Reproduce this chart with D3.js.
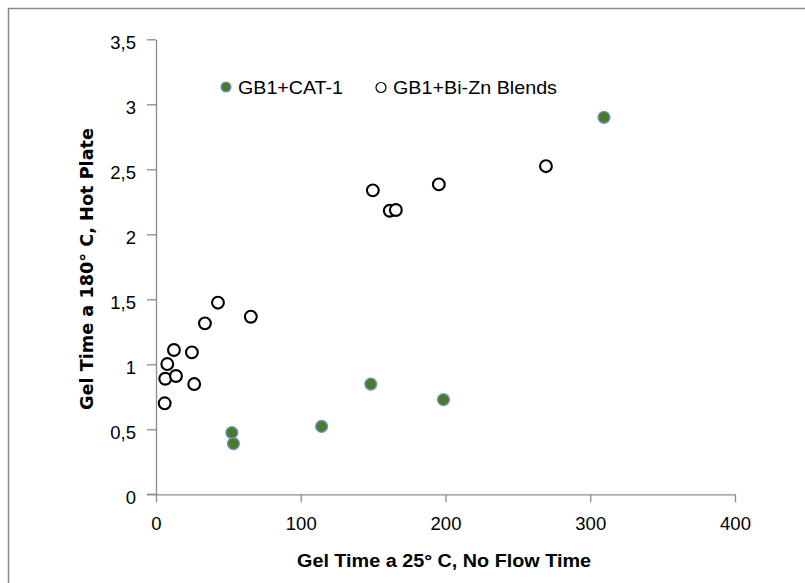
<!DOCTYPE html>
<html>
<head>
<meta charset="utf-8">
<script src="https://cdn.jsdelivr.net/npm/d3@7"></script>
<style>
  html, body { margin: 0; padding: 0; background: #fff; }
  svg { display: block; }
</style>
</head>
<body>
<svg id="chart" width="805" height="583"></svg>
<script>
// Data
const catX = [309.5, 148.4, 198.6, 114.4, 52.4, 53.5];
const catY = [2.90, 0.848, 0.728, 0.522, 0.474, 0.39];
const biznX = [42.8, 33.8, 65.5, 12.4, 24.8, 7.8, 6.4, 13.8, 26.4, 6.0, 149.8, 161.5, 165.7, 195.4, 269.4];
const biznY = [1.474, 1.315, 1.366, 1.11, 1.092, 1.002, 0.889, 0.91, 0.848, 0.70, 2.338, 2.181, 2.187, 2.384, 2.524];
const xTicks = [0, 100, 200, 300, 400];
const yTicks = [0, 0.5, 1, 1.5, 2, 2.5, 3, 3.5];
const seriesNames = ["GB1+CAT-1", "GB1+Bi-Zn Blends"];
const xTitle = "Gel Time a 25\u00B0 C, No Flow Time";
const yTitle = "Gel Time  a 180\u00B0 C, Hot Plate";

const svg = d3.select("#chart");
const axisColor = "#8c8c8c";
const font = "'Liberation Sans', Arial, sans-serif";

// outer frame
svg.append("rect").attr("x", 8.5).attr("y", 8.5).attr("width", 820).attr("height", 600)
  .attr("fill", "none").attr("stroke", "#8a8a8a").attr("stroke-width", 1.5);

const x = d3.scaleLinear().domain([0, 400]).range([156, 735]);
const y = d3.scaleLinear().domain([0, 3.5]).range([494.3, 39.3]);

const fmt = d => String(d).replace(".", ",");

// y axis
const gy = svg.append("g").attr("transform", `translate(${x(0)},0)`)
  .call(d3.axisLeft(y).tickValues(yTicks).tickSize(9).tickSizeOuter(0).tickFormat(fmt));
gy.select(".domain").attr("stroke", axisColor).attr("stroke-width", 1.3);
gy.selectAll(".tick line").attr("stroke", axisColor).attr("stroke-width", 1.3);
gy.selectAll(".tick text").attr("x", -20).attr("dy", "0.5em")
  .attr("font-family", font).attr("font-size", 18.5).attr("fill", "#000");

// x axis
const gx = svg.append("g").attr("transform", `translate(0,${y(0)})`)
  .call(d3.axisBottom(x).tickValues(xTicks).tickSize(8).tickSizeOuter(0).tickFormat(d => d));
gx.select(".domain").attr("stroke", axisColor).attr("stroke-width", 1.3);
gx.selectAll(".tick text").attr("y", 23).attr("dy", "0.71em")
  .attr("font-family", font).attr("font-size", 18.5).attr("fill", "#000");
gx.selectAll(".tick line").attr("stroke", axisColor).attr("stroke-width", 1.3);
// extend x-axis line left to y-tick length
svg.append("line").attr("x1", x(0) - 9).attr("x2", x(0)).attr("y1", y(0)).attr("y2", y(0))
  .attr("stroke", axisColor).attr("stroke-width", 1.3);

// axis titles
svg.append("text").attr("x", 444).attr("y", 567).attr("text-anchor", "middle")
  .attr("font-family", font).attr("font-weight", "bold").attr("font-size", 18)
  .attr("textLength", 294).attr("lengthAdjust", "spacingAndGlyphs")
  .text(xTitle);
svg.append("text").attr("transform", "translate(93,269) rotate(-90)").attr("text-anchor", "middle")
  .attr("font-family", "'DejaVu Sans', Verdana, sans-serif").attr("font-weight", "bold").attr("font-size", 17)
  .attr("textLength", 282).attr("lengthAdjust", "spacingAndGlyphs")
  .text(yTitle);

// hollow series
svg.append("g").selectAll("circle").data(biznX.map((d, i) => [d, biznY[i]])).join("circle")
  .attr("cx", d => x(d[0])).attr("cy", d => y(d[1])).attr("r", 5.9)
  .attr("fill", "#fff").attr("stroke", "#000").attr("stroke-width", 2.1);

// green series
svg.append("g").selectAll("circle").data(catX.map((d, i) => [d, catY[i]])).join("circle")
  .attr("cx", d => x(d[0])).attr("cy", d => y(d[1])).attr("r", 5.9)
  .attr("fill", "#4d7a24").attr("stroke", "#6a95cf").attr("stroke-width", 1.4);

// legend
const leg = svg.append("g");
leg.append("circle").attr("cx", 226).attr("cy", 87).attr("r", 5)
  .attr("fill", "#4d7a24").attr("stroke", "#6a95cf").attr("stroke-width", 1.2);
leg.append("text").attr("x", 238).attr("y", 94).attr("font-family", font).attr("font-size", 19)
  .attr("textLength", 105).attr("lengthAdjust", "spacingAndGlyphs").text(seriesNames[0]);
leg.append("circle").attr("cx", 381).attr("cy", 87.5).attr("r", 5)
  .attr("fill", "#fff").attr("stroke", "#000").attr("stroke-width", 1.2);
leg.append("text").attr("x", 393).attr("y", 94).attr("font-family", font).attr("font-size", 19)
  .attr("textLength", 164).attr("lengthAdjust", "spacingAndGlyphs").text(seriesNames[1]);
</script>
</body>
</html>
